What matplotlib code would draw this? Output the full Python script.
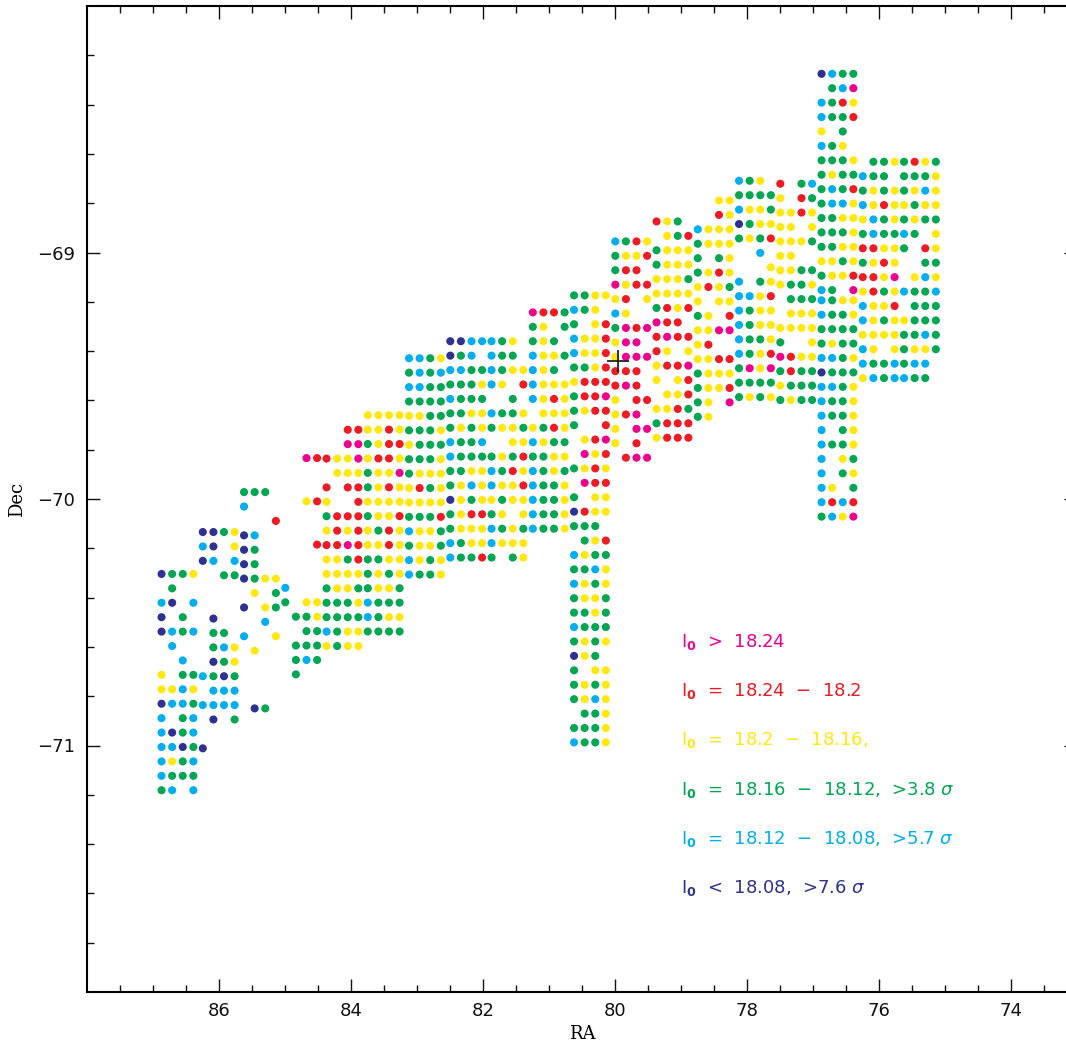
import numpy as np
import matplotlib
matplotlib.use('Agg')
import matplotlib.pyplot as plt

# I0 classes -> colours
class_colors = {'m': '#EC008C', 'r': '#ED1C24', 'y': '#FFE812',
                'g': '#00A651', 'c': '#00AEEF', 'b': '#2E3192'}

# grid steps of the fields (deg)
dra = 0.1606
ddec = 0.0585

# each field: RA of first column, Dec of first row, rows of class codes ('.' = no point)
f00_ra, f00_dec = 86.875, -70.304
f00 = ["bggy", ".g..", "cb.c", "b.g.", "bcgc", ".c..", "..c.", "y.gg",
       "yycy", "bccg", "c.gc", "cbgc", "ccbg", "cygc", "cggg", "gc.c"]
f01_ra, f01_dec = 86.25, -70.134
f01 = ["bbgy", "cb.y", "bc.c", "..gg", "....", "....", ".b..", ".gg.",
       ".gcy", ".bgy", "cgbg", ".ccc", "cccc", ".b.g", "....", "b..."]
f02_ra, f02_dec = 85.625, -69.972
f02 = ["ggg.", "c...", "...r", "bc..", "bg..", "bg..", "bgyy", ".y.g",
       "b.yg", "..c.", "c..y", ".y..", "....", "....", "....", ".bg."]
f03_ra, f03_dec = 85.0, -69.834
f03 = ["..mr", "....", "....", "..yr", "....", "....", "...r", "....",
       "....", "c...", "g.yy", ".ggy", "..gg", ".ggg", ".gcg", ".g.."]
f04_ra, f04_dec = 84.375, -69.719
f04 = ["..rr", "..mm", "ryym", ".yyy", "r.rr", "y..r", "grrr", "yryr", "rrmr",
       "yygr", "yyyy", "gyyg", "gggy", "gggg", "cgyy", "ygyy"]
f05_ra, f05_dec = 83.75, -69.660
f05 = ["yyyy", "yyry", "gyrr", "yrry", "gyym", "gyry", "yyyy", "gyyr", "ygry", "yyry",
       "ggyy", "gygy", "gyyg", "cggg", "cgyy", "gggg"]
f06_ra, f06_dec = 83.125, -69.429
f06 = ["ccgy", "gcgc", "ccgg", "gggg", "yygg", "gggy", "yggg", "gggy",
       "gyyy", "yrgy", "yyyy", "gggr", "cyyg", "gyyg", "cygy", "cggy"]
f07_ra, f07_dec = 82.5, -69.360
f07 = ["bbcc", "bgc.", "ccgg", "gggy", "cggg", "ggyy", "gygy", "cggc",
       "cggg", "ggyy", "gycy", "bygy", "gyrr", "gyyy", "cgyy", "cggr"]
f08_ra, f08_dec = 81.875, -69.360
f08 = ["cgy.", "cgg.", "cgyy", "cy.r", "..g.", "cggy", "gyyg", "..yy",
       "gygr", "cgry", "cyyr", "ygyy", "gy.y", "cgyg", "cyyy", "g.gy"]
f09_ra, f09_dec = 81.25, -69.243
f09 = ["mrrg", "gy.g", "gyg.", "cyyg", "cyg.", "cyyy", "cyry", ".yyy",
       "ygry", "cygg", "ggyy", "cgyg", "cggy", "cggy", "cggy", "cggy"]
f10_ra, f10_dec = 80.625, -69.174
f10 = ["ggyy", "cgy.", "g.yr", "cyyr", "cyyr", "ggyr", "yrrr", "grrm",
       "gyrr", "g..r", ".yrm", ".myr", "gyry", ".mrr", "g.yy", "bryy",
       "ggg.", ".gyr", "cygg", "ggcy", "cygy", "gyyg", "ggyg", "cggg",
       "gygy", "byg.", "g.yy", "gygy", "gycy", ".ggy", "gggy", "cggy"]
f11_ra, f11_dec = 80.0, -68.955
f11 = ["cgry", "gyyr", "grr.", "myrr", "yr.y", "cy..", "gmrm", "ymm.",
       "ymmm", "rrr.", "rmr.", "y.rr", "yrm.", "y.mm", "y.r.", ".rmm"]
f12_ra, f12_dec = 79.375, -68.874
f12 = ["ryg.", ".ygr", "gyyy", "gyyy", "yyyg", "yyyy", "gryr", "mrr.",
       "rmrr", "ry.y", "yrrm", "y.yr", ".yyr", "yyrg", "grrr", "yrrr"]
f13_ra, f13_dec = 78.75, -68.789
f13 = ["..yy", "..ry", "cyyy", "gyyy", "g.gy", "gyry", "yryg", "y.yy",
       "gy.r", "yymm", "yr..", "yyrr", "gyyy", "gyyr", "gy.m", "gy.."]
f14_ra, f14_dec = 78.125, -68.709
f14 = ["cgy.", "gggg", "cyyg", "bgyy", "gygr", "..c.", "...y", "c.gy",
       "ccyr", "cgyy", "cgyy", "cggy", "cgyr", "gmym", "gggg", "gygy"]
f15_ra, f15_dec = 77.5, -68.721
f15 = ["r.gc", "y.rg", "yyry", "yy.y", "yyyg", "yy..", "yygg", "yggy",
       ".ggg", ".yyy", "yyyy", "g..y", "mryy", "grgg", "yggg", "gygg"]
f16_ra, f16_dec = 76.875, -68.275
f16 = ["bcgg", ".gcm", "cgry", "cggr", "y.g.", "cgy.", "gggy", "gygg",
       "gcgr", "gccy", "ggyy", "gggy", "ggyy", "yygy", "gyyr", "cg.m"]
f16b_ra, f16b_dec = 76.875, -69.194
f16b = ["cgyy", "cggy", "gggg", "gygg", "ccgy", "bggg", "ccgy", "cggy",
        "cggy", "c.gy", "cggy", "c.yg", "c.gy", "cy.g", "crcr", "gcym"]
f17_ra, f17_dec = 76.25, -68.632
f17 = [".ggy", "cgg.", "gygy", "cyry", "ycgy", "gcgg", "rryy", "gyry",
       "rrym", "yrgy", "cyyr", "cygy", "yyyy", "cy.y", "cggc", "ycgc"]
f18_ra, f18_dec = 75.625, -68.632
f18 = ["gryg", "gggy", "gycy", "ygyy", "gygg", "cg.y", "g.ry", "..gg",
       ".ycy", "cggc", ".ggg", "yggg", "ggcg", "gyyg", "gcc.", "cgg."]

fields = [(f00_ra, f00_dec, f00), (f01_ra, f01_dec, f01), (f02_ra, f02_dec, f02),
          (f03_ra, f03_dec, f03), (f04_ra, f04_dec, f04), (f05_ra, f05_dec, f05),
          (f06_ra, f06_dec, f06), (f07_ra, f07_dec, f07), (f08_ra, f08_dec, f08),
          (f09_ra, f09_dec, f09), (f10_ra, f10_dec, f10), (f11_ra, f11_dec, f11),
          (f12_ra, f12_dec, f12), (f13_ra, f13_dec, f13), (f14_ra, f14_dec, f14),
          (f15_ra, f15_dec, f15), (f16_ra, f16_dec, f16), (f16b_ra, f16b_dec, f16b),
          (f17_ra, f17_dec, f17), (f18_ra, f18_dec, f18)]

# centre marker
center_ra, center_dec = 79.96, -69.44

legend_codes = ['m', 'r', 'y', 'g', 'c', 'b']
legend_texts = [r'I$_\mathbf{0}$  >  18.24',
                r'I$_\mathbf{0}$  =  18.24  $-$  18.2',
                r'I$_\mathbf{0}$  =  18.2  $-$  18.16,',
                r'I$_\mathbf{0}$  =  18.16  $-$  18.12,  >3.8 $\sigma$',
                r'I$_\mathbf{0}$  =  18.12  $-$  18.08,  >5.7 $\sigma$',
                r'I$_\mathbf{0}$  <  18.08,  >7.6 $\sigma$']
legend_dec = [-70.60, -70.80, -71.00, -71.20, -71.40, -71.60]
legend_ra = 79.0

ra, dec, col = [], [], []
for ra0, dec0, rows in fields:
    for i, row in enumerate(rows):
        for j, ch in enumerate(row):
            if ch == '.':
                continue
            ra.append(ra0 - j * dra)
            dec.append(dec0 - i * ddec)
            col.append(class_colors[ch])

fig = plt.figure(figsize=(10.66, 10.45), dpi=100)
ax = fig.add_axes([87.3 / 1066, (1045 - 992.0) / 1045, 990.0 / 1066, 986.0 / 1045])

ax.scatter(ra, dec, s=34, c=col, linewidths=0, zorder=2)
ax.plot(center_ra, center_dec, marker='+', ms=16, mew=1.3, color='#222222', zorder=3)

for code, txt, yy in zip(legend_codes, legend_texts, legend_dec):
    ax.text(legend_ra, yy, txt, color=class_colors[code], fontsize=13,
            ha='left', va='baseline')

ax.set_xlim(88, 73)
ax.set_ylim(-72, -68)
ax.set_xticks([86, 84, 82, 80, 78, 76, 74])
ax.set_xticks(np.arange(73.5, 88, 0.5), minor=True)
ax.set_yticks([-71, -70, -69])
ax.set_yticks(np.arange(-71.8, -68.0, 0.2), minor=True)
ax.set_xticklabels(['86', '84', '82', '80', '78', '76', '74'])
ax.set_yticklabels(['\u221271', '\u221270', '\u221269'])
ax.tick_params(which='both', direction='in', top=True, right=True, width=1.0,
               labelsize=13, colors='#111111')
ax.tick_params(which='major', length=9.5)
ax.tick_params(axis='y', which='major', pad=9)
ax.tick_params(axis='x', which='major', pad=7)
ax.tick_params(which='minor', length=5)
for sp in ax.spines.values():
    sp.set_linewidth(1.5)

ax.set_xlabel('RA', fontsize=13, family='DejaVu Serif', labelpad=4)
ax.set_ylabel('Dec', fontsize=13, family='DejaVu Serif', labelpad=8)

fig.savefig('out.png', dpi=100)
